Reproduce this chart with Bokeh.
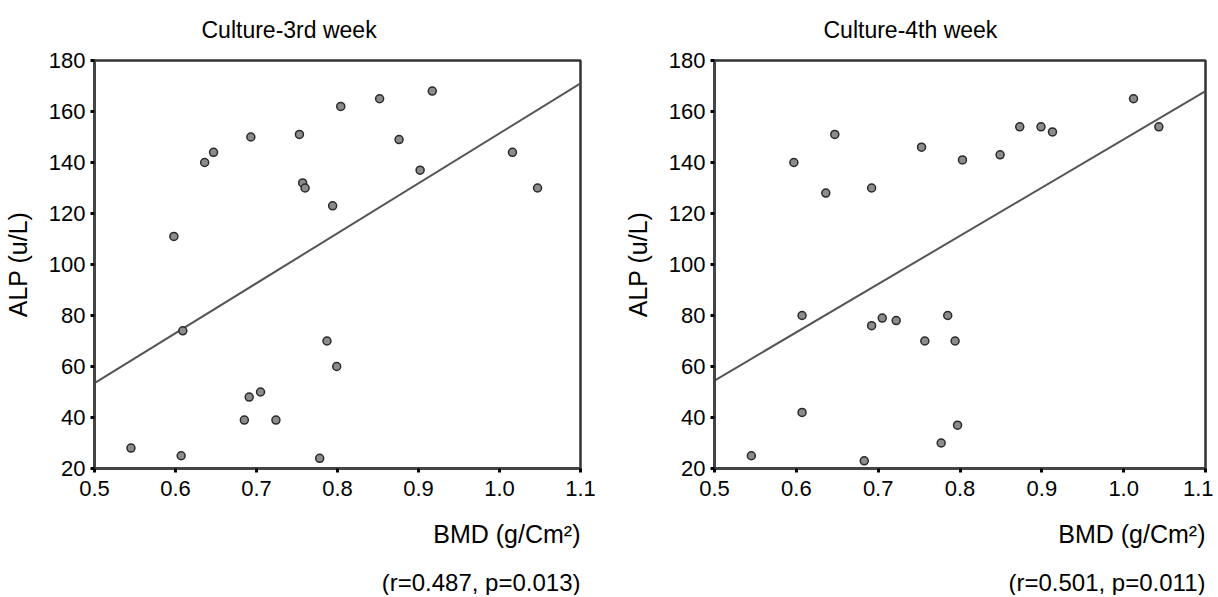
from bokeh.plotting import figure
from bokeh.layouts import row
from bokeh.models import FixedTicker, Title, Range1d, NumeralTickFormatter, ColumnDataSource
from bokeh.embed import file_html
from bokeh.resources import INLINE

# ---------------- data ----------------
x_ticks = [0.5, 0.6, 0.7, 0.8, 0.9, 1.0, 1.1]
y_ticks = [20, 40, 60, 80, 100, 120, 140, 160, 180]

bmd_3rd = [0.598, 0.636, 0.647, 0.693, 0.753, 0.757, 0.760, 0.794, 0.804, 0.852,
           0.917, 0.876, 0.902, 1.016, 1.047, 0.609, 0.545, 0.607, 0.685, 0.691,
           0.705, 0.724, 0.778, 0.787, 0.799]
alp_3rd = [111, 140, 144, 150, 151, 132, 130, 123, 162, 165,
           168, 149, 137, 144, 130, 74, 28, 25, 39, 48,
           50, 39, 24, 70, 60]

bmd_4th = [0.597, 0.647, 0.636, 0.692, 0.753, 0.803, 0.849, 0.873, 0.899, 0.913,
           1.012, 1.043, 0.607, 0.607, 0.545, 0.683, 0.692, 0.705, 0.722, 0.757,
           0.785, 0.794, 0.797, 0.777]
alp_4th = [140, 151, 128, 130, 146, 141, 143, 154, 154, 152,
           165, 154, 80, 42, 25, 23, 76, 79, 78, 70,
           80, 70, 37, 30]

fit_x = [0.5, 1.1]
fit_3rd = [53.5, 171.0]
fit_4th = [54.5, 168.0]

titles = ["Culture-3rd week", "Culture-4th week"]
x_label = "BMD (g/Cm\u00b2)"
y_label = "ALP (u/L)"
stats = ["(r=0.487, p=0.013)", "(r=0.501, p=0.011)"]

FONT = "Liberation Sans"


def panel(title, bmd, alp, fit_y, stat, frame_w, left_b, right_b, title_off):
    p = figure(frame_width=frame_w, frame_height=408,
               x_range=Range1d(0.5, 1.1), y_range=Range1d(20, 180),
               min_border_left=left_b, min_border_right=right_b,
               min_border_top=58, min_border_bottom=2,
               output_backend="svg", toolbar_location=None,
               background_fill_color="white", border_fill_color="white")
    p.title.text = title
    p.title.align = "left"
    p.title.vertical_align = "top"
    p.title.offset = title_off
    p.title.text_font = FONT
    p.title.text_font_size = "23px"
    p.title.text_font_style = "normal"
    p.title.text_color = "black"
    p.title.text_line_height = 1.0
    p.title.standoff = 32

    p.grid.visible = False
    p.outline_line_color = "#333333"
    p.outline_line_width = 2.5

    for ax in (p.xaxis[0], p.yaxis[0]):
        ax.axis_line_width = 3
        ax.axis_line_color = "#444444"
        ax.major_tick_line_width = 3
        ax.major_tick_line_color = "black"
        ax.major_tick_in = 0
        ax.major_tick_out = 4
        ax.minor_tick_line_color = None
        ax.major_label_text_font = FONT
        ax.major_label_text_font_size = "22px"
        ax.major_label_text_color = "black"

    p.xaxis.ticker = FixedTicker(ticks=x_ticks)
    p.xaxis.formatter = NumeralTickFormatter(format="0.0")
    p.xaxis.major_label_standoff = 8
    p.yaxis.ticker = FixedTicker(ticks=y_ticks)
    p.yaxis.major_label_standoff = 5
    p.yaxis.axis_label = y_label
    p.yaxis.axis_label_text_font = FONT
    p.yaxis.axis_label_text_font_size = "25px"
    p.yaxis.axis_label_text_font_style = "normal"
    p.yaxis.axis_label_text_color = "black"
    p.yaxis.axis_label_standoff = 14

    p.line(fit_x, fit_y, line_color="#555555", line_width=2)
    src = ColumnDataSource(dict(x=bmd, y=alp))
    p.scatter("x", "y", source=src, size=8, fill_color="#8c8c8c",
              line_color="#2a2a2a", line_width=1.5)

    p.add_layout(Title(text=x_label, align="right", text_font=FONT,
                       text_font_size="25px", text_font_style="normal",
                       text_line_height=1.0,
                       text_color="black", standoff=38), "below")
    p.add_layout(Title(text=stat, align="right", text_font=FONT,
                       text_font_size="24px", text_font_style="normal",
                       text_line_height=1.0,
                       text_color="black", standoff=0), "below")
    return p


p1 = panel(titles[0], bmd_3rd, alp_3rd, fit_3rd, stats[0], 486, 89, 25, 107)
p2 = panel(titles[1], bmd_4th, alp_4th, fit_4th, stats[1], 491, 109, 8, 109)

layout = row(p1, p2)
open("out.html", "w").write(file_html(layout, INLINE))
